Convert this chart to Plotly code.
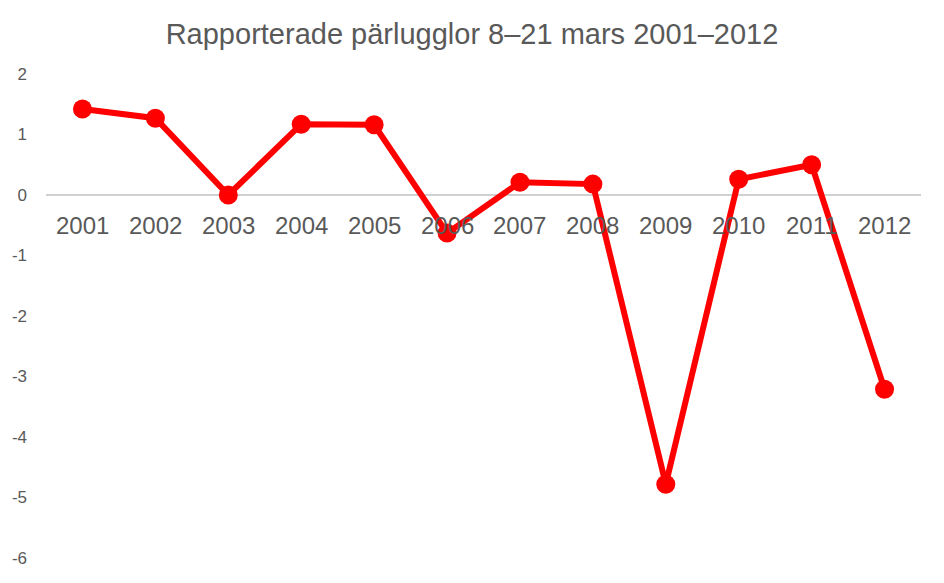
import plotly.graph_objects as go

years = ["2001", "2002", "2003", "2004", "2005", "2006",
         "2007", "2008", "2009", "2010", "2011", "2012"]
values = [1.42, 1.27, 0.0, 1.17, 1.16, -0.63, 0.21, 0.18, -4.78, 0.26, 0.50, -3.21]
y_ticks = [2, 1, 0, -1, -2, -3, -4, -5, -6]
y_labels = ["2", "1", "0", "-1", "-2", "-3", "-4", "-5", "-6"]

fig = go.Figure()
fig.add_trace(go.Scatter(
    x=years, y=values, mode="lines+markers",
    line=dict(color="#ff0000", width=6),
    marker=dict(color="#ff0000", size=19),
    showlegend=False,
))

# category labels sit just under the zero line (x given as category index)
for i, yr in enumerate(years):
    fig.add_annotation(x=i, y=0, xref="x", yref="y", text=yr, showarrow=False,
                       yanchor="top", yshift=-15,
                       font=dict(family="Liberation Sans, Arial", size=24, color="#595959"))

fig.update_layout(
    title=dict(text="Rapporterade pärlugglor 8–21 mars 2001–2012",
               x=0.5, xanchor="center", y=0.955, yanchor="middle",
               font=dict(family="Liberation Sans, Arial", size=29, color="#595959")),
    width=928, height=567,
    margin=dict(l=38, r=15, t=66, b=17),
    paper_bgcolor="white", plot_bgcolor="white",
    xaxis=dict(type="category", showticklabels=False, showgrid=False, showline=False,
               range=[-0.5, len(years) - 0.5]),
    yaxis=dict(range=[-6, 2], tickvals=y_ticks, ticktext=y_labels, showgrid=False,
               zeroline=True, zerolinecolor="#d0d0d0", zerolinewidth=1.5,
               ticks="", ticklabelstandoff=18, automargin=False,
               tickfont=dict(family="Liberation Sans, Arial", size=17, color="#595959")),
)

fig.write_html("out.html")
